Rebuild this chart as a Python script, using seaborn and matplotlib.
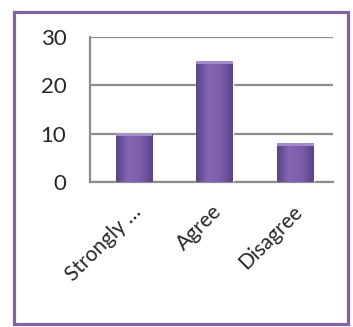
import matplotlib
matplotlib.use("Agg")
import matplotlib.pyplot as plt
import seaborn as sns
import pandas as pd
import numpy as np
from matplotlib.patches import Rectangle
from matplotlib.colors import LinearSegmentedColormap

categories = ["Strongly …", "Agree", "Disagree"]
values = [10, 25, 8]

sns.set_style("white")
plt.rcParams['font.family'] = ['Lato', 'DejaVu Sans']

df = pd.DataFrame({"cat": categories, "val": values})

fig = plt.figure(figsize=(3.53, 3.27), dpi=100)
ax = fig.add_axes([0.255, 0.4434, 0.688, 0.4435])

sns.barplot(data=df, x="cat", y="val", color="#7A5CA6", width=0.45,
            saturation=1, ax=ax, zorder=3)

cmap = LinearSegmentedColormap.from_list("bar", ["#5E4289", "#8466B4", "#7C5EAB", "#5E4289"])
grad = np.linspace(0, 1, 64).reshape(1, -1)
for p in list(ax.patches):
    p.set_x(p.get_x() + 0.04)
    x0, w, h = p.get_x(), p.get_width(), p.get_height()
    im = ax.imshow(grad, cmap=cmap, aspect="auto", extent=[x0, x0 + w, 0, h],
                   zorder=3.5, interpolation="bicubic")
    im.set_clip_path(p)
    top = Rectangle((x0, h - 0.5), w, 0.5, facecolor="#A48BCB", edgecolor="none", zorder=4)
    ax.add_patch(top)
ax.set_xlim(-0.5, 2.5)
ax.set_ylim(0, 30)
ax.set_yticks([0, 10, 20, 30])
ax.yaxis.grid(True, color="#8C8C8C", linewidth=1.6, zorder=0)
ax.set_axisbelow(True)
for s in ["top", "right"]:
    ax.spines[s].set_visible(False)
for s in ["left", "bottom"]:
    ax.spines[s].set_color("#8C8C8C")
    ax.spines[s].set_linewidth(1.6)

ax.set_xticks([-0.5, 0.5, 1.5, 2.5], minor=False)
ax.set_xticklabels([])
ax.set_xticks([0, 1, 2], minor=True)
ax.set_xticklabels(categories, minor=True, rotation=45, ha="right",
                   rotation_mode="anchor", fontsize=15)
ax.tick_params(axis="x", which="major", length=7, width=1.6, color="#8C8C8C", direction="out")
ax.tick_params(axis="x", which="minor", length=0, pad=14)
ax.tick_params(axis="y", length=7, width=1.6, color="#8C8C8C", labelsize=16, pad=10)
ax.set_xlabel("")
ax.set_ylabel("")

fig.patches.append(Rectangle((13.5/353, 1 - 323.5/327), (348 - 13.5)/353, (323.5 - 11.5)/327,
                             transform=fig.transFigure, fill=False,
                             edgecolor="#8064A2", linewidth=2.3))

fig.savefig("out.png", dpi=100, facecolor="white")
